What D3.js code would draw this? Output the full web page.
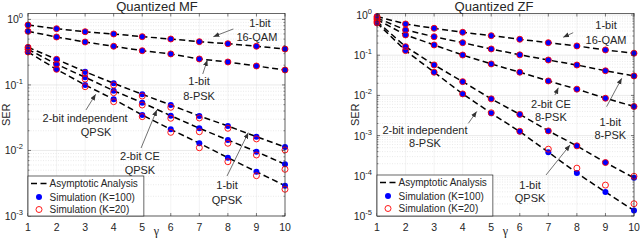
<!DOCTYPE html>
<html><head><meta charset="utf-8">
<script src="https://cdn.jsdelivr.net/npm/d3@7"></script>
<style>
body{margin:0;background:#fff}
svg{display:block}
text{font-family:"Liberation Sans",Arial,Helvetica,sans-serif;fill:#262626}
</style>
</head><body>
<svg id="c" width="640" height="240"></svg>
<script>
// ---------------- DATA ----------------
const gammas = [1,2,3,4,5,6,7,8,9,10];

// Quantized MF
const mf16QAM_1bit_K100 = [0.821,0.721,0.649,0.599,0.545,0.502,0.457,0.426,0.389,0.353];
const mf16QAM_1bit_K20  = [0.821,0.721,0.649,0.599,0.545,0.502,0.457,0.426,0.389,0.353];
const mf8PSK_1bit_K100  = [0.658,0.539,0.452,0.389,0.333,0.297,0.249,0.224,0.1945,0.169];
const mf8PSK_1bit_K20   = [0.658,0.539,0.452,0.389,0.333,0.297,0.249,0.224,0.1945,0.169];
const mfQPSK_1bit_K100  = [0.375,0.246,0.159,0.106,0.0720,0.0494,0.0336,0.0236,0.0162,0.0113];
const mfQPSK_1bit_K20   = [0.375,0.246,0.152,0.0998,0.0678,0.0456,0.0313,0.0218,0.0150,0.0102];
const mfQPSK_2bitCE_K100 = [0.350,0.2065,0.1308,0.0817,0.0536,0.0339,0.0218,0.01445,0.00958,0.00615];
const mfQPSK_2bitCE_K20  = [0.350,0.2065,0.1232,0.0761,0.0494,0.0310,0.0193,0.01288,0.00853,0.00516];
const mfQPSK_2bitInd_K100 = [0.318,0.173,0.0998,0.0604,0.0348,0.0210,0.01288,0.00776,0.00474,0.0029];
const mfQPSK_2bitInd_K20  = [0.318,0.173,0.0940,0.0555,0.0328,0.0189,0.0110,0.00674,0.00412,0.00256];

// Quantized ZF
const zf16QAM_1bit_K100 = [0.918,0.598,0.467,0.372,0.306,0.249,0.205,0.170,0.135,0.112];
const zf16QAM_1bit_K20  = [0.918,0.598,0.467,0.372,0.306,0.249,0.205,0.170,0.135,0.112];
const zf8PSK_1bit_K100  = [0.842,0.424,0.289,0.205,0.143,0.102,0.076,0.057,0.041,0.0305];
const zf8PSK_1bit_K20   = [0.842,0.424,0.289,0.205,0.143,0.102,0.076,0.057,0.041,0.0305];
const zf8PSK_2bitCE_K100 = [0.774,0.319,0.180,0.101,0.0606,0.0377,0.0229,0.0143,0.0085,0.0053];
const zf8PSK_2bitCE_K20  = [0.774,0.319,0.180,0.101,0.0606,0.0377,0.0229,0.0143,0.0085,0.0053];
const zfQPSK_1bit_K100  = [0.69,0.163,0.0573,0.022,0.0082,0.00337,0.00131,0.000556,0.000214,0.0000891];
const zfQPSK_1bit_K20   = [0.69,0.163,0.0573,0.022,0.0082,0.00337,0.00131,0.000556,0.000214,0.0000972];
const zf8PSK_2bitInd_K100 = [0.633,0.13,0.0377,0.0109,0.00361,0.00126,0.000388,0.000117,0.0000394,0.0000137];
const zf8PSK_2bitInd_K20  = [0.633,0.13,0.0377,0.0109,0.0037,0.00128,0.00046,0.000155,0.0000587,0.0000202];

const legendLabels = ["Asymptotic Analysis","Simulation (K=100)","Simulation (K=20)"];
const xTickLabels = ["1","2","3","4","5","6","7","8","9","10"];

// annotations: [gamma, SER] in data coordinates
const mfNotes = [
  {lines:["1-bit","16-QAM"], dx2:-3, gap:13.5, at:[9.12,0.866], arrow:[[8.19,0.714],[7.49,0.545]]},
  {lines:["1-bit","8-PSK"], dx2:0, gap:14.5, at:[6.99,0.1128], arrow:[[7.12,0.147],[7.28,0.240]]},
  {lines:["2-bit independent","QPSK"], dx2:11, gap:14, at:[3.0,0.0308], arrow:[[3.03,0.0415],[3.37,0.072]]},
  {lines:["2-bit CE","QPSK"], dx2:0, gap:14, at:[4.92,0.00824], arrow:[[4.96,0.0109],[5.51,0.0415]]},
  {lines:["1-bit","QPSK"], dx2:0, gap:15, at:[7.97,0.00297], arrow:[[7.97,0.00408],[8.715,0.0187]]}
];
const zfNotes = [
  {lines:["1-bit","16-QAM"], dx2:0, gap:14.5, at:[9.02,0.564], arrow:[[7.87,0.363],[7.52,0.279]]},
  {lines:["2-bit CE","8-PSK"], dx2:0, gap:12.5, at:[7.09,0.00611], arrow:[[7.23,0.0102],[7.35,0.0155]]},
  {lines:["1-bit","8-PSK"], dx2:0, gap:13, at:[9.17,0.00224], arrow:[[9.04,0.00524],[9.57,0.0266]]},
  {lines:["2-bit independent","8-PSK"], dx2:0, gap:13.3, at:[2.68,0.00138], arrow:[[4.2,0.00202],[4.49,0.00398]]},
  {lines:["1-bit","QPSK"], dx2:0, gap:13.3, at:[6.36,0.000059], arrow:[[6.92,0.000105],[7.76,0.000584]]}
];

// ---------------- DRAW ----------------
const svg = d3.select("#c");
const defs = svg.append("defs");
defs.append("marker").attr("id","ah").attr("markerUnits","userSpaceOnUse")
  .attr("markerWidth",7).attr("markerHeight",6).attr("refX",6).attr("refY",2.5)
  .attr("orient","auto")
  .append("path").attr("d","M0,0 L6,2.5 L0,5 Z").attr("fill","#333");

const AX = "#262626";

function drawPanel(p){
  const x = d3.scaleLinear().domain([1,10]).range([p.x0,p.x1]);
  const y = d3.scaleLog().domain(p.yDomain).range([p.y1,p.y0]);
  const g = svg.append("g");

  const majors=[], minors=[];
  for(let e=p.eMin;e<=0;e++) majors.push(Math.pow(10,e));
  for(let e=p.eMin;e<0;e++) for(let k=2;k<=9;k++) minors.push(k*Math.pow(10,e));

  // grid
  g.selectAll(".gm").data(minors).join("line")
    .attr("x1",p.x0).attr("x2",p.x1).attr("y1",d=>y(d)).attr("y2",d=>y(d))
    .attr("stroke","#d4d4d4").attr("stroke-width",0.5).attr("stroke-dasharray","1,1.5");
  g.selectAll(".gM").data(majors).join("line")
    .attr("x1",p.x0).attr("x2",p.x1).attr("y1",d=>y(d)).attr("y2",d=>y(d))
    .attr("stroke","#dcdcdc").attr("stroke-width",0.6);
  g.selectAll(".gx").data(gammas).join("line")
    .attr("x1",d=>x(d)).attr("x2",d=>x(d)).attr("y1",p.y0).attr("y2",p.y1)
    .attr("stroke","#d8d8d8").attr("stroke-width",0.6).attr("stroke-dasharray","1,1");

  // asymptotic lines
  const line = d3.line().x(d=>x(d[0])).y(d=>y(d[1]));
  p.series.forEach(s=>{
    g.append("path").datum(gammas.map((gm,i)=>[gm,s.k100[i]]))
      .attr("d",line).attr("fill","none").attr("stroke","#000")
      .attr("stroke-width",1.5).attr("stroke-dasharray","6,3.5");
  });
  // K=100 markers
  p.series.forEach(s=>{
    g.selectAll(null).data(gammas.map((gm,i)=>[gm,s.k100[i]])).join("circle")
      .attr("cx",d=>x(d[0])).attr("cy",d=>y(d[1])).attr("r",3).attr("fill","#0000ff");
  });
  // K=20 markers
  p.series.forEach(s=>{
    g.selectAll(null).data(gammas.map((gm,i)=>[gm,s.k20[i]])).join("circle")
      .attr("cx",d=>x(d[0])).attr("cy",d=>y(d[1])).attr("r",3).attr("fill","none")
      .attr("stroke","#ff0000").attr("stroke-width",0.9);
  });

  // box
  g.append("rect").attr("x",p.x0).attr("y",p.y0).attr("width",p.x1-p.x0).attr("height",p.y1-p.y0)
    .attr("fill","none").attr("stroke",AX).attr("stroke-width",0.7);
  // ticks
  gammas.forEach(gm=>{
    g.append("line").attr("x1",x(gm)).attr("x2",x(gm)).attr("y1",p.y1).attr("y2",p.y1-3).attr("stroke",AX).attr("stroke-width",0.6);
    g.append("line").attr("x1",x(gm)).attr("x2",x(gm)).attr("y1",p.y0).attr("y2",p.y0+3).attr("stroke",AX).attr("stroke-width",0.6);
  });
  majors.forEach(v=>{
    g.append("line").attr("x1",p.x0).attr("x2",p.x0+3).attr("y1",y(v)).attr("y2",y(v)).attr("stroke",AX).attr("stroke-width",0.6);
    g.append("line").attr("x1",p.x1).attr("x2",p.x1-3).attr("y1",y(v)).attr("y2",y(v)).attr("stroke",AX).attr("stroke-width",0.6);
  });
  minors.forEach(v=>{
    g.append("line").attr("x1",p.x0).attr("x2",p.x0+1.5).attr("y1",y(v)).attr("y2",y(v)).attr("stroke",AX).attr("stroke-width",0.5);
    g.append("line").attr("x1",p.x1).attr("x2",p.x1-1.5).attr("y1",y(v)).attr("y2",y(v)).attr("stroke",AX).attr("stroke-width",0.5);
  });
  // tick labels
  g.selectAll(".xl").data(gammas).join("text")
    .attr("x",d=>x(d)).attr("y",p.y1+15).attr("text-anchor","middle").attr("font-size",10.5)
    .text((d,i)=>xTickLabels[i]);
  majors.forEach(v=>{
    const e = Math.round(Math.log10(v));
    const t = g.append("text").attr("x",p.x0-5).attr("y",y(v)+4).attr("text-anchor","end").attr("font-size",10.5);
    t.append("tspan").text("10");
    t.append("tspan").attr("dy",-5).attr("font-size",7.5).text(String(e));
  });
  // axis labels
  g.append("text").attr("transform",`translate(${p.x0-18},${(p.y0+p.y1)/2}) rotate(-90)`)
    .attr("text-anchor","middle").attr("font-size",11).text("SER");
  g.append("text").attr("x",(p.x0+p.x1)/2).attr("y",p.y1+18.5).attr("text-anchor","middle")
    .attr("font-size",12).style("font-family","'Liberation Serif',serif").text("γ");
  // title
  g.append("text").attr("x",p.titleX).attr("y",11).attr("text-anchor","middle")
    .attr("font-size",13).text(p.title);

  // annotations
  p.notes.forEach(n=>{
    const cx=x(n.at[0]), cy=y(n.at[1]);
    n.lines.forEach((t,i)=>{
      g.append("text").attr("x",cx+(i? n.dx2:0)).attr("y",cy+4+i*n.gap).attr("text-anchor","middle")
        .attr("font-size",11).text(t);
    });
    g.append("line").attr("x1",x(n.arrow[0][0])).attr("y1",y(n.arrow[0][1]))
      .attr("x2",x(n.arrow[1][0])).attr("y2",y(n.arrow[1][1]))
      .attr("stroke","#333").attr("stroke-width",0.7).attr("marker-end","url(#ah)");
  });

  // legend
  const lg = g.append("g");
  const lh = p.legendH, lx = p.x0, ly = p.y1-lh;
  const box = lg.append("rect").attr("x",lx).attr("y",ly).attr("height",lh).attr("fill","#fff")
    .attr("stroke",AX).attr("stroke-width",0.7);
  const rows=[7.5,21,33.5];
  let maxW=0;
  legendLabels.forEach((t,i)=>{
    const tt = lg.append("text").attr("x",lx+21.5).attr("y",ly+rows[i]+3.6).attr("font-size",10).text(t);
    maxW=Math.max(maxW,tt.node().getComputedTextLength());
  });
  box.attr("width",21.5+maxW+6);
  lg.append("line").attr("x1",lx+3).attr("x2",lx+19).attr("y1",ly+rows[0]).attr("y2",ly+rows[0])
    .attr("stroke","#000").attr("stroke-width",1.5).attr("stroke-dasharray","6,3.5");
  lg.append("circle").attr("cx",lx+11).attr("cy",ly+rows[1]).attr("r",3).attr("fill","#0000ff");
  lg.append("circle").attr("cx",lx+11).attr("cy",ly+rows[2]).attr("r",3).attr("fill","none")
    .attr("stroke","#ff0000").attr("stroke-width",0.9);
}

drawPanel({
  x0:28, x1:285, y0:13.5, y1:216, yDomain:[1e-3,1.23], eMin:-3,
  title:"Quantized MF", titleX:157, legendH:40,
  series:[
    {k100:mf16QAM_1bit_K100, k20:mf16QAM_1bit_K20},
    {k100:mf8PSK_1bit_K100, k20:mf8PSK_1bit_K20},
    {k100:mfQPSK_1bit_K100, k20:mfQPSK_1bit_K20},
    {k100:mfQPSK_2bitCE_K100, k20:mfQPSK_2bitCE_K20},
    {k100:mfQPSK_2bitInd_K100, k20:mfQPSK_2bitInd_K20}
  ],
  notes: mfNotes
});
drawPanel({
  x0:377, x1:634, y0:13.5, y1:216, yDomain:[1e-5,1.09], eMin:-5,
  title:"Quantized ZF", titleX:494, legendH:41,
  series:[
    {k100:zf16QAM_1bit_K100, k20:zf16QAM_1bit_K20},
    {k100:zf8PSK_1bit_K100, k20:zf8PSK_1bit_K20},
    {k100:zf8PSK_2bitCE_K100, k20:zf8PSK_2bitCE_K20},
    {k100:zfQPSK_1bit_K100, k20:zfQPSK_1bit_K20},
    {k100:zf8PSK_2bitInd_K100, k20:zf8PSK_2bitInd_K20}
  ],
  notes: zfNotes
});
</script>
</body></html>
